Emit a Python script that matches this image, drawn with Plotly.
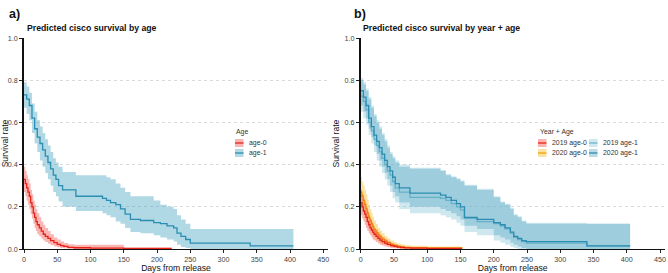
import plotly.graph_objects as go

# ---------------- Panel a data ----------------
a_age1_days = [0, 4, 8, 12, 16, 20, 24, 28, 32, 36, 40, 44, 48, 52, 58, 78, 118, 124, 130, 138, 145, 152, 160, 175, 195, 205, 215, 225, 230, 236, 243, 250, 340, 405]
a_age1_est = [0.73, 0.71, 0.68, 0.62, 0.57, 0.53, 0.50, 0.47, 0.44, 0.41, 0.38, 0.35, 0.33, 0.30, 0.28, 0.25, 0.24, 0.23, 0.22, 0.21, 0.19, 0.165, 0.14, 0.135, 0.125, 0.12, 0.11, 0.10, 0.075, 0.06, 0.045, 0.028, 0.015, 0.015]
a_age1_upper = [0.79, 0.77, 0.74, 0.69, 0.65, 0.61, 0.58, 0.55, 0.52, 0.49, 0.46, 0.43, 0.41, 0.39, 0.365, 0.35, 0.35, 0.34, 0.33, 0.31, 0.29, 0.27, 0.25, 0.25, 0.23, 0.21, 0.20, 0.19, 0.16, 0.14, 0.12, 0.095, 0.095, 0.095]
a_age1_lower = [0.67, 0.64, 0.61, 0.55, 0.50, 0.46, 0.42, 0.39, 0.36, 0.33, 0.30, 0.27, 0.25, 0.225, 0.20, 0.18, 0.17, 0.16, 0.15, 0.13, 0.12, 0.10, 0.08, 0.075, 0.065, 0.055, 0.045, 0.035, 0.02, 0.01, 0.005, 0.0, 0.0, 0.0]

a_age0_days = [0, 2, 4, 6, 8, 10, 12, 14, 16, 18, 20, 23, 26, 29, 32, 36, 40, 45, 50, 55, 60, 66, 75, 100, 150, 222]
a_age0_est = [0.33, 0.31, 0.29, 0.27, 0.25, 0.22, 0.20, 0.17, 0.15, 0.13, 0.115, 0.10, 0.085, 0.07, 0.06, 0.05, 0.04, 0.03, 0.022, 0.016, 0.012, 0.008, 0.006, 0.004, 0.002, 0.002]
a_age0_upper = [0.39, 0.37, 0.35, 0.33, 0.31, 0.28, 0.26, 0.23, 0.21, 0.19, 0.17, 0.15, 0.13, 0.115, 0.10, 0.085, 0.07, 0.055, 0.045, 0.035, 0.028, 0.022, 0.02, 0.02, 0.01, 0.005]
a_age0_lower = [0.27, 0.25, 0.23, 0.21, 0.19, 0.165, 0.145, 0.12, 0.10, 0.085, 0.07, 0.06, 0.05, 0.04, 0.033, 0.025, 0.018, 0.012, 0.008, 0.005, 0.003, 0.001, 0.0, 0.0, 0.0, 0.0]

# ---------------- Panel b data ----------------
b_age1_days = [0, 4, 8, 12, 16, 20, 24, 28, 32, 36, 40, 44, 48, 52, 58, 74, 120, 128, 136, 144, 150, 156, 175, 200, 210, 217, 225, 230, 236, 242, 249, 340, 405]
b_2020_age1_est = [0.75, 0.72, 0.68, 0.62, 0.58, 0.54, 0.51, 0.48, 0.45, 0.42, 0.39, 0.37, 0.34, 0.31, 0.29, 0.265, 0.255, 0.245, 0.23, 0.215, 0.20, 0.15, 0.14, 0.125, 0.115, 0.10, 0.08, 0.06, 0.05, 0.04, 0.035, 0.015, 0.015]
b_2019_age1_est = [0.725, 0.70, 0.66, 0.60, 0.56, 0.52, 0.49, 0.46, 0.43, 0.40, 0.37, 0.35, 0.32, 0.29, 0.27, 0.245, 0.24, 0.23, 0.215, 0.20, 0.185, 0.145, 0.13, 0.12, 0.11, 0.095, 0.075, 0.055, 0.045, 0.035, 0.028, 0.015, 0.015]
b_2020_age1_upper = [0.80, 0.78, 0.75, 0.71, 0.67, 0.63, 0.60, 0.57, 0.54, 0.51, 0.48, 0.45, 0.43, 0.41, 0.39, 0.38, 0.37, 0.35, 0.34, 0.33, 0.32, 0.30, 0.28, 0.245, 0.22, 0.21, 0.19, 0.16, 0.15, 0.13, 0.12, 0.12, 0.105]
b_2020_age1_lower = [0.68, 0.65, 0.62, 0.57, 0.53, 0.49, 0.45, 0.42, 0.39, 0.36, 0.33, 0.30, 0.27, 0.25, 0.22, 0.20, 0.19, 0.18, 0.17, 0.155, 0.14, 0.11, 0.095, 0.065, 0.055, 0.045, 0.03, 0.02, 0.012, 0.005, 0.0, 0.0, 0.0]
b_2019_age1_upper = [0.81, 0.79, 0.76, 0.72, 0.68, 0.64, 0.61, 0.58, 0.55, 0.52, 0.49, 0.46, 0.44, 0.42, 0.40, 0.385, 0.375, 0.355, 0.345, 0.335, 0.325, 0.305, 0.285, 0.25, 0.225, 0.215, 0.195, 0.165, 0.155, 0.135, 0.125, 0.12, 0.105]
b_2019_age1_lower = [0.65, 0.62, 0.59, 0.54, 0.50, 0.46, 0.42, 0.39, 0.36, 0.33, 0.30, 0.27, 0.24, 0.22, 0.19, 0.17, 0.16, 0.15, 0.14, 0.125, 0.11, 0.08, 0.065, 0.04, 0.03, 0.02, 0.01, 0.005, 0.0, 0.0, 0.0, 0.0, 0.0]

b_age0_days = [0, 2, 4, 6, 8, 10, 12, 14, 16, 18, 20, 23, 26, 29, 32, 36, 40, 45, 50, 55, 60, 66, 75, 100, 152]
b_2019_age0_est = [0.22, 0.20, 0.18, 0.165, 0.15, 0.13, 0.115, 0.10, 0.09, 0.08, 0.07, 0.06, 0.05, 0.042, 0.035, 0.028, 0.022, 0.016, 0.012, 0.009, 0.007, 0.005, 0.004, 0.003, 0.002]
b_2019_age0_upper = [0.28, 0.26, 0.24, 0.22, 0.20, 0.18, 0.16, 0.145, 0.13, 0.115, 0.10, 0.09, 0.078, 0.066, 0.056, 0.046, 0.037, 0.028, 0.022, 0.017, 0.013, 0.01, 0.008, 0.006, 0.004]
b_2019_age0_lower = [0.16, 0.145, 0.13, 0.115, 0.10, 0.085, 0.075, 0.065, 0.055, 0.045, 0.04, 0.033, 0.026, 0.02, 0.016, 0.012, 0.008, 0.005, 0.003, 0.002, 0.001, 0.0, 0.0, 0.0, 0.0]
b_2020_age0_est = [0.27, 0.25, 0.23, 0.21, 0.19, 0.17, 0.15, 0.135, 0.12, 0.105, 0.09, 0.078, 0.066, 0.056, 0.047, 0.038, 0.03, 0.022, 0.017, 0.013, 0.01, 0.008, 0.006, 0.005, 0.003]
b_2020_age0_upper = [0.34, 0.32, 0.30, 0.28, 0.26, 0.235, 0.21, 0.19, 0.17, 0.15, 0.135, 0.12, 0.10, 0.088, 0.075, 0.062, 0.05, 0.04, 0.032, 0.026, 0.022, 0.018, 0.015, 0.012, 0.006]
b_2020_age0_lower = [0.20, 0.185, 0.17, 0.15, 0.13, 0.115, 0.10, 0.088, 0.076, 0.064, 0.054, 0.045, 0.037, 0.03, 0.024, 0.019, 0.014, 0.01, 0.007, 0.005, 0.003, 0.002, 0.001, 0.0, 0.0]

x_ticks = [0, 50, 100, 150, 200, 250, 300, 350, 400, 450]
y_ticks = [0.0, 0.2, 0.4, 0.6, 0.8, 1.0]
y_tick_labels = ["0.0", "0.2", "0.4", "0.6", "0.8", "1.0"]

panel_titles = ["Predicted cisco survival by age", "Predicted cisco survival by year + age"]
panel_labels = ["a)", "b)"]
legend_a_title = "Age"
legend_a_names = ["age-0", "age-1"]
legend_b_title = "Year + Age"
legend_b_names = ["2019 age-0", "2020 age-0", "2019 age-1", "2020 age-1"]

FONT = "Liberation Sans, Arial, sans-serif"
W, H = 668, 273

RED = "#E8231A"
RED_BAND = "rgba(240,60,50,0.38)"
ORANGE = "#F0A30A"
YEL_BAND = "rgba(245,180,10,0.38)"
BLUE = "#2A8DB1"
BLUE_BAND = "rgba(70,165,192,0.42)"
LBLUE = "#6FB4CB"
LBLUE_BAND = "rgba(140,200,218,0.42)"
DBLUE_BAND = "rgba(90,170,195,0.42)"

fig = go.Figure()


def add_series(days, est, lo, hi, line_color, band_color, xa, ya, name, lw=1.3):
    fig.add_trace(go.Scatter(x=days, y=lo, mode="lines", line=dict(width=0, shape="hv"),
                             xaxis=xa, yaxis=ya, showlegend=False, hoverinfo="skip"))
    fig.add_trace(go.Scatter(x=days, y=hi, mode="lines", line=dict(width=0, shape="hv"),
                             fill="tonexty", fillcolor=band_color,
                             xaxis=xa, yaxis=ya, showlegend=False, hoverinfo="skip"))
    fig.add_trace(go.Scatter(x=days, y=est, mode="lines", name=name,
                             line=dict(color=line_color, width=lw, shape="hv"),
                             xaxis=xa, yaxis=ya, showlegend=False))


# Panel a
add_series(a_age1_days, a_age1_est, a_age1_lower, a_age1_upper, BLUE, BLUE_BAND, "x", "y", legend_a_names[1])
add_series(a_age0_days, a_age0_est, a_age0_lower, a_age0_upper, RED, RED_BAND, "x", "y", legend_a_names[0])

# Panel b
add_series(b_age1_days, b_2019_age1_est, b_2019_age1_lower, b_2019_age1_upper, LBLUE, LBLUE_BAND, "x2", "y2", legend_b_names[2])
add_series(b_age1_days, b_2020_age1_est, b_2020_age1_lower, b_2020_age1_upper, BLUE, DBLUE_BAND, "x2", "y2", legend_b_names[3])
add_series(b_age0_days, b_2020_age0_est, b_2020_age0_lower, b_2020_age0_upper, ORANGE, YEL_BAND, "x2", "y2", legend_b_names[1])
add_series(b_age0_days, b_2019_age0_est, b_2019_age0_lower, b_2019_age0_upper, RED, RED_BAND, "x2", "y2", legend_b_names[0])

# geometry (pixels)
y0_px, y1_px = 249, 38
ydom = [(H - y0_px) / H, (H - y1_px) / H]
xdom_a = [24 / W, 328 / W]
xdom_b = [360.7 / W, 664.7 / W]


def xaxis_cfg(dom, anchor):
    return dict(domain=dom, range=[0, 457], anchor=anchor, tickvals=x_ticks,
                ticks="outside", ticklen=3, tickwidth=1, tickcolor="#222",
                showline=True, linecolor="#111", linewidth=1.3, showgrid=False, zeroline=False,
                tickfont=dict(family=FONT, size=7.2, color="#444"),
                title=dict(text="Days from release", font=dict(family=FONT, size=8.6, color="#111"), standoff=1),
                automargin=False)


def yaxis_cfg(anchor):
    return dict(domain=ydom, range=[0, 1.0], anchor=anchor, tickvals=y_ticks, ticktext=y_tick_labels,
                ticks="outside", ticklen=3, tickwidth=1, tickcolor="#222",
                showline=True, linecolor="#111", linewidth=1.6,
                showgrid=True, gridcolor="#DADADA", griddash="dot", gridwidth=1, zeroline=False,
                tickfont=dict(family=FONT, size=7.2, color="#444"),
                title=dict(text="Survival rate", font=dict(family=FONT, size=8.6, color="#111"), standoff=3),
                automargin=False)


shapes = []
annotations = []

# panel labels and titles
for lab, px in zip(panel_labels, [7, 352]):
    annotations.append(dict(text="<b>%s</b>" % lab, x=px / W, y=(H - 14) / H, xref="paper", yref="paper",
                            xanchor="left", yanchor="middle", showarrow=False,
                            font=dict(family=FONT, size=12.5, color="#111")))
for t, px in zip(panel_titles, [25, 361]):
    annotations.append(dict(text="<b>%s</b>" % t, x=px / W, y=(H - 28) / H, xref="paper", yref="paper",
                            xanchor="left", yanchor="middle", showarrow=False,
                            font=dict(family=FONT, size=8.7, color="#111")))


def legend_key(x, yc, band, line):
    shapes.append(dict(type="rect", xref="paper", yref="paper",
                       x0=x / W, x1=(x + 8.5) / W, y0=(H - yc - 4) / H, y1=(H - yc + 4) / H,
                       fillcolor=band, line=dict(width=0)))
    shapes.append(dict(type="line", xref="paper", yref="paper",
                       x0=x / W, x1=(x + 8.5) / W, y0=(H - yc) / H, y1=(H - yc) / H,
                       line=dict(color=line, width=1.3)))


def legend_text(txt, x, yc, size=6.9):
    annotations.append(dict(text=txt, x=x / W, y=(H - yc) / H, xref="paper", yref="paper",
                            xanchor="left", yanchor="middle", showarrow=False,
                            font=dict(family=FONT, size=size, color="#333")))


# legend a
legend_text(legend_a_title, 234.5, 132)
legend_key(235, 143, RED_BAND, RED)
legend_text(legend_a_names[0], 247, 143)
legend_key(235, 153, BLUE_BAND, BLUE)
legend_text(legend_a_names[1], 247, 153)

# legend b
legend_text(legend_b_title, 537.5, 132)
legend_key(538, 143, RED_BAND, RED)
legend_text(legend_b_names[0], 550, 143)
legend_key(538, 153, YEL_BAND, ORANGE)
legend_text(legend_b_names[1], 550, 153)
legend_key(589, 143, LBLUE_BAND, LBLUE)
legend_text(legend_b_names[2], 600.5, 143)
legend_key(589, 153, DBLUE_BAND, BLUE)
legend_text(legend_b_names[3], 600.5, 153)

fig.update_layout(
    width=W, height=H,
    margin=dict(l=0, r=0, t=0, b=0),
    paper_bgcolor="white", plot_bgcolor="white",
    font=dict(family=FONT),
    showlegend=False,
    xaxis=xaxis_cfg(xdom_a, "y"),
    yaxis=yaxis_cfg("x"),
    xaxis2=xaxis_cfg(xdom_b, "y2"),
    yaxis2=yaxis_cfg("x2"),
    shapes=shapes,
    annotations=annotations,
)

fig.write_html("out.html", config={"displayModeBar": False},
               post_script="document.body.style.margin='0';document.body.style.padding='0';")
